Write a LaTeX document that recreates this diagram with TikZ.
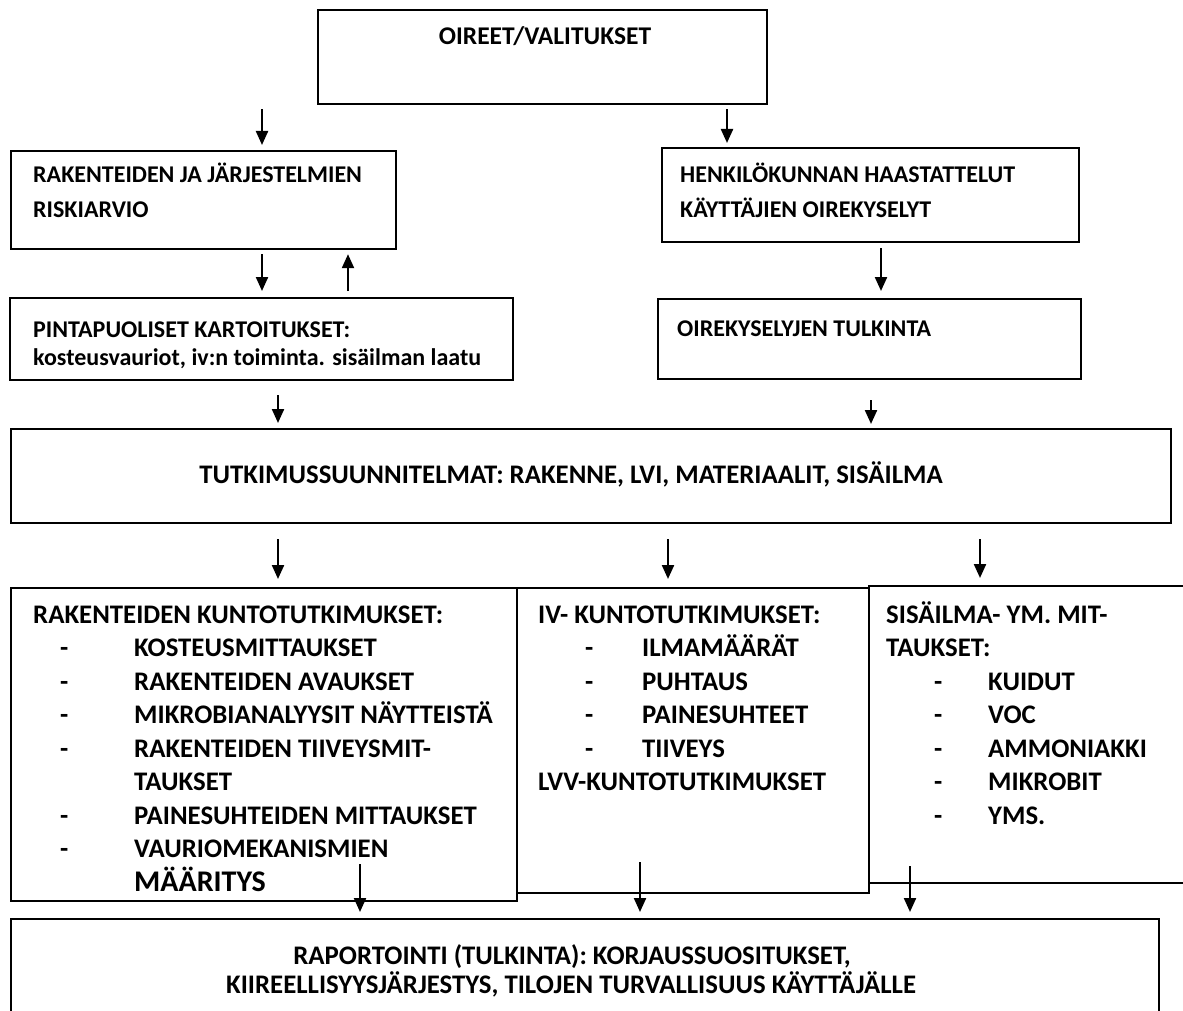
\documentclass[tikz,border=0pt]{standalone}
\usepackage{fontspec}
\setmainfont{Carlito}
\usetikzlibrary{arrows.meta}
\tikzset{
  box/.style={draw, line width=2.2pt, inner sep=0pt, anchor=north west},
  arr/.style={line width=2.2pt, -{Triangle[length=14pt,width=12pt]}},
  txt/.style={inner sep=0pt, font=\fontsize{26.8}{34}\selectfont\bfseries, anchor=base west},
  utxt/.style={txt, font=\fontsize{24}{34}\selectfont\bfseries},
  ctxt/.style={txt, anchor=base},
}
\begin{document}
\begin{tikzpicture}[x=1pt,y=-1pt]
\useasboundingbox (0,0) rectangle (1183,1011);
\clip (0,0) rectangle (1183,1011);
\fill[white] (0,0) rectangle (1183,1011);
% boxes
\node[box, minimum width=449pt, minimum height=94pt] (oireet) at (317,9) {};
\node[box, minimum width=385pt, minimum height=98pt] (risk) at (10,150) {};
\node[box, minimum width=417pt, minimum height=94pt] (henk) at (661,147) {};
\node[box, minimum width=503pt, minimum height=82pt] (pinta) at (9,297) {};
\node[box, minimum width=423pt, minimum height=80pt] (oirek) at (657,298) {};
\node[box, minimum width=1160pt, minimum height=94pt] (tutk) at (10,428) {};
\node[box, minimum width=506pt, minimum height=313pt] (rak) at (10,587) {};
\node[box, minimum width=352pt, minimum height=305pt] (iv) at (516,587) {};
\node[box, minimum width=330pt, minimum height=297pt] (sis) at (868,585) {};
\node[box, minimum width=1148pt, minimum height=110pt] (rap) at (10,918) {};
% texts
\node[ctxt, font=\fontsize{25.5}{30}\selectfont\bfseries] (t0) at (545,45) {OIREET/VALITUKSET};
\node[utxt] (t1a) at (33,183) {RAKENTEIDEN JA JÄRJESTELMIEN};
\node[utxt] (t1b) at (33,218) {RISKIARVIO};
\node[utxt] (t2a) at (680,183) {HENKILÖKUNNAN HAASTATTELUT};
\node[utxt] (t2b) at (680,218) {KÄYTTÄJIEN OIREKYSELYT};
\node[utxt] (t3a) at (33,337) {PINTAPUOLISET KARTOITUKSET:};
\node[utxt] (t3b) at (33,365) {kosteusvauriot, iv:n toiminta. sisäilman laatu};
\node[utxt] (t4) at (677,336) {OIREKYSELYJEN TULKINTA};
\node[ctxt] (t5) at (571,483) {TUTKIMUSSUUNNITELMAT: RAKENNE, LVI, MATERIAALIT, SISÄILMA};
% left list
\node[txt] (r0) at (33,623) {RAKENTEIDEN KUNTOTUTKIMUKSET:};
\node[txt] (rd1) at (60,656.5) {-}; \node[txt] (r1) at (134,656.5) {KOSTEUSMITTAUKSET};
\node[txt] (rd2) at (60,690) {-}; \node[txt] (r2) at (134,690) {RAKENTEIDEN AVAUKSET};
\node[txt] (rd3) at (60,723.5) {-}; \node[txt] (r3) at (134,723.5) {MIKROBIANALYYSIT NÄYTTEISTÄ};
\node[txt] (rd4) at (60,757) {-}; \node[txt] (r4) at (134,757) {RAKENTEIDEN TIIVEYSMIT-};
\node[txt] (r5) at (134,790.5) {TAUKSET};
\node[txt] (rd6) at (60,824) {-}; \node[txt] (r6) at (134,824) {PAINESUHTEIDEN MITTAUKSET};
\node[txt] (rd7) at (60,857.5) {-}; \node[txt] (r7) at (134,857.5) {VAURIOMEKANISMIEN};
\node[txt, font=\fontsize{30}{34}\selectfont\bfseries] (r8) at (134,891) {MÄÄRITYS};
% middle list
\node[txt] (i0) at (538,623) {IV- KUNTOTUTKIMUKSET:};
\node[txt] (id1) at (585,656.5) {-}; \node[txt] (i1) at (642,656.5) {ILMAMÄÄRÄT};
\node[txt] (id2) at (585,690) {-}; \node[txt] (i2) at (642,690) {PUHTAUS};
\node[txt] (id3) at (585,723.5) {-}; \node[txt] (i3) at (642,723.5) {PAINESUHTEET};
\node[txt] (id4) at (585,757) {-}; \node[txt] (i4) at (642,757) {TIIVEYS};
\node[txt] (i5) at (538,790.5) {LVV-KUNTOTUTKIMUKSET};
% right list
\node[txt] (s0) at (886,623) {SISÄILMA- YM. MIT-};
\node[txt] (s0b) at (886,656.5) {TAUKSET:};
\node[txt] (sd1) at (934,690) {-}; \node[txt] (s1) at (988,690) {KUIDUT};
\node[txt] (sd2) at (934,723.5) {-}; \node[txt] (s2) at (988,723.5) {VOC};
\node[txt] (sd3) at (934,757) {-}; \node[txt] (s3) at (988,757) {AMMONIAKKI};
\node[txt] (sd4) at (934,790.5) {-}; \node[txt] (s4) at (988,790.5) {MIKROBIT};
\node[txt] (sd5) at (934,824) {-}; \node[txt] (s5) at (988,824) {YMS.};
% bottom
\node[ctxt] (p1) at (572,964) {RAPORTOINTI (TULKINTA): KORJAUSSUOSITUKSET,};
\node[ctxt] (p2) at (571,993) {KIIREELLISYYSJÄRJESTYS, TILOJEN TURVALLISUUS KÄYTTÄJÄLLE};
% arrow x positions
\coordinate (xa) at (262,0);
\coordinate (xb) at (727,0);
\coordinate (xc) at (348,0);
\coordinate (xd) at (881,0);
\coordinate (xe) at (278,0);
\coordinate (xf) at (871,0);
\coordinate (xg) at (668,0);
\coordinate (xh) at (980,0);
\coordinate (q1) at (360,864);
\coordinate (q2) at (640,862);
\coordinate (q3) at (910,866);
% arrows
\draw[arr, shorten <=4pt, shorten >=5pt] (oireet.south -| xa) -- (risk.north -| xa);
\draw[arr, shorten <=4pt, shorten >=4pt] (oireet.south -| xb) -- (henk.north -| xb);
\draw[arr, shorten <=4pt, shorten >=6pt] (risk.south -| xa) -- (pinta.north -| xa);
\draw[arr, shorten <=6pt, shorten >=4pt] (pinta.north -| xc) -- (risk.south -| xc);
\draw[arr, shorten <=5pt, shorten >=7pt] (henk.south -| xd) -- (oirek.north -| xd);
\draw[arr, shorten <=14pt, shorten >=5pt] (pinta.south -| xe) -- (tutk.north -| xe);
\draw[arr, shorten <=20pt, shorten >=4pt] (oirek.south -| xf) -- (tutk.north -| xf);
\draw[arr, shorten <=15pt, shorten >=8pt] (tutk.south -| xe) -- (rak.north -| xe);
\draw[arr, shorten <=15pt, shorten >=8pt] (tutk.south -| xg) -- (iv.north -| xg);
\draw[arr, shorten <=15pt, shorten >=7pt] (tutk.south -| xh) -- (sis.north -| xh);
\draw[arr, shorten >=6pt] (q1) -- (rap.north -| q1);
\draw[arr, shorten >=6pt] (q2) -- (rap.north -| q2);
\draw[arr, shorten >=6pt] (q3) -- (rap.north -| q3);
\end{tikzpicture}
\end{document}
